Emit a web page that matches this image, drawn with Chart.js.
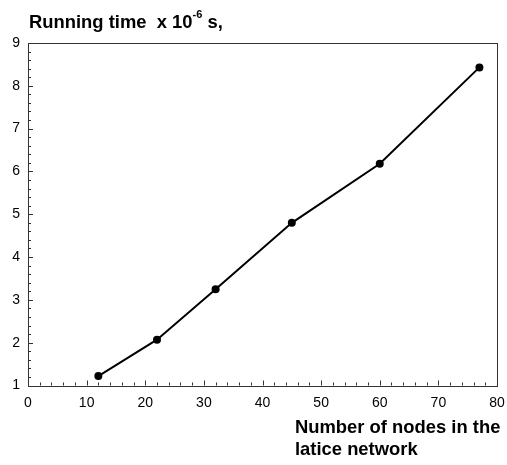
<!DOCTYPE html>
<html><head><meta charset="utf-8">
<script src="https://cdn.jsdelivr.net/npm/chart.js@4"></script>
<style>
html,body{margin:0;padding:0;background:#fff;}
#wrap{position:relative;width:507px;height:465px;}
canvas{position:absolute;left:0;top:0;}
.t{position:absolute;font-family:"Liberation Sans",Arial,sans-serif;font-weight:bold;color:#000;white-space:nowrap;}
sup{font-size:0.6em;position:relative;top:-0.25em;line-height:0;}
</style></head>
<body>
<div id="wrap">
<canvas id="c" width="507" height="465"></canvas>
<div class="t" id="yt" style="left:29px;top:11px;font-size:18.4px;line-height:22px;">Running time&nbsp; x 10<sup>-6</sup> s,</div>
<div class="t" id="xt" style="left:295px;top:416px;font-size:18.4px;line-height:22px;">Number of nodes in the<br>latice network</div>
</div>
<script>
const nodes = [12, 22, 32, 45, 60, 77];
const runTimes = [1.22, 2.07, 3.25, 4.8, 6.18, 8.43];
const xTicks = [0, 10, 20, 30, 40, 50, 60, 70, 80];
const yTicks = [1, 2, 3, 4, 5, 6, 7, 8, 9];

const frame = {
  id: 'frame',
  afterDraw(chart) {
    const {ctx, chartArea: a, scales} = chart;
    ctx.save();
    ctx.strokeStyle = '#333';
    ctx.lineWidth = 1;
    ctx.strokeRect(Math.round(a.left) + 0.5, Math.round(a.top) + 0.5, Math.round(a.right - a.left), Math.round(a.bottom - a.top));
    ctx.beginPath();
    const xs = scales.x, ys = scales.y;
    for (let v = xs.min; v <= xs.max + 1e-9; v += 2) {
      const px = Math.round(xs.getPixelForValue(v)) + 0.5;
      const len = (Math.abs(v % 10) < 1e-9) ? 5 : 3;
      ctx.moveTo(px, a.bottom); ctx.lineTo(px, a.bottom - len);
    }
    for (let v = ys.min; v <= ys.max + 1e-9; v += 0.2) {
      const py = Math.round(ys.getPixelForValue(v)) + 0.5;
      const r = Math.abs(v - Math.round(v)) < 1e-6;
      ctx.moveTo(a.left, py); ctx.lineTo(a.left + (r ? 5 : 3), py);
    }
    ctx.stroke();
    ctx.restore();
  }
};

new Chart(document.getElementById('c'), {
  type: 'scatter',
  data: {
    datasets: [{
      data: nodes.map((x, i) => ({x, y: runTimes[i]})),
      showLine: true,
      borderColor: '#000',
      backgroundColor: '#000',
      borderWidth: 2,
      pointRadius: 4,
      pointBackgroundColor: '#000',
      pointBorderWidth: 0
    }]
  },
  options: {
    responsive: false,
    animation: false,
    layout: {padding: {left: 0, top: 43, right: 10, bottom: 50}},
    plugins: {legend: {display: false}, tooltip: {enabled: false}},
    scales: {
      x: {
        type: 'linear', min: 0, max: 80,
        afterBuildTicks: s => { s.ticks = xTicks.map(v => ({value: v})); },
        afterFit: s => { s.height = 29.5; s.paddingLeft = 0; s.paddingRight = 0; },
        grid: {display: false, drawTicks: false},
        border: {display: false},
        ticks: {padding: 9, color: '#000', font: {family: '"Liberation Sans", Arial, sans-serif', size: 14}, maxRotation: 0}
      },
      y: {
        type: 'linear', min: 1, max: 9,
        afterBuildTicks: s => { s.ticks = yTicks.map(v => ({value: v})); },
        afterFit: s => { s.width = 28; s.paddingTop = 0; s.paddingBottom = 0; },
        grid: {display: false, drawTicks: false},
        border: {display: false},
        ticks: {padding: 8, color: '#000', font: {family: '"Liberation Sans", Arial, sans-serif', size: 14}}
      }
    }
  },
  plugins: [frame]
});
</script>
</body></html>
